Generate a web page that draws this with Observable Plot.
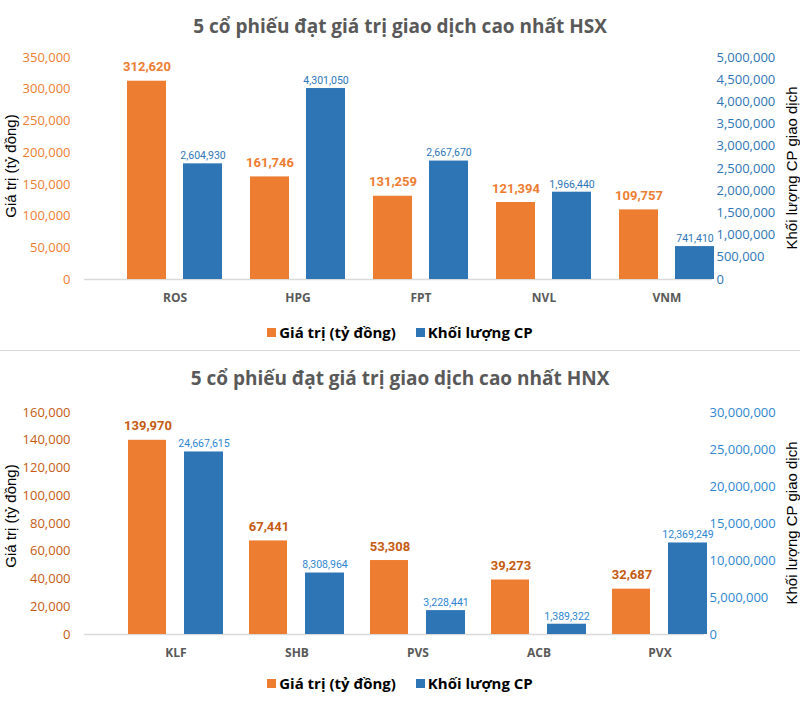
<!DOCTYPE html>
<html>
<head>
<meta charset="utf-8">
<script src="https://cdn.jsdelivr.net/npm/d3@7"></script>
<script src="https://cdn.jsdelivr.net/npm/@observablehq/plot@0.6"></script>
<style>
  html, body { margin: 0; padding: 0; background: #fff; }
  body { width: 800px; height: 724px; position: relative; overflow: hidden; font-family: "Open Sans", sans-serif; }
  .title { position: absolute; left: 0; width: 800px; text-align: center; font-size: 19px; font-weight: 700; color: #595959; height: 24px; line-height: 24px; }
  .chart { position: absolute; left: 0; }
  .ytitle { position: absolute; transform: translate(-50%, -50%) rotate(-90deg); white-space: nowrap; font-family: "Liberation Sans", Arial, sans-serif; font-size: 15px; color: #000; }
  .legend { position: absolute; left: 0; width: 800px; display: flex; justify-content: center; align-items: center; gap: 20px; font-size: 15px; font-weight: 700; color: #000; height: 22px; line-height: 22px; }
  .legend span.sw { display: inline-block; width: 9px; height: 9px; margin-right: 3px; vertical-align: middle; position: relative; top: -1px; }
  .sep { position: absolute; left: 0; width: 800px; height: 1px; background: #D9D9D9; }
</style>
</head>
<body>
<div class="title" style="top:14px">5 cổ phiếu đạt giá trị giao dịch cao nhất HSX</div>
<div id="c1" class="chart" style="top:40px"></div>
<div class="ytitle" style="left:10px; top:166px">Giá trị (tỷ đồng)</div>
<div class="ytitle" style="left:791px; top:168px">Khối lượng CP giao dịch</div>
<div class="legend" style="top:321px"><div><span class="sw" style="background:#ED7D31"></span>Giá trị (tỷ đồng)</div><div><span class="sw" style="background:#2E75B6"></span>Khối lượng CP</div></div>

<div class="sep" style="top:350px"></div>

<div class="title" style="top:366px">5 cổ phiếu đạt giá trị giao dịch cao nhất HNX</div>
<div id="c2" class="chart" style="top:395px"></div>
<div class="ytitle" style="left:10px; top:516px">Giá trị (tỷ đồng)</div>
<div class="ytitle" style="left:791px; top:523px">Khối lượng CP giao dịch</div>
<div class="legend" style="top:672px"><div><span class="sw" style="background:#ED7D31"></span>Giá trị (tỷ đồng)</div><div><span class="sw" style="background:#2E75B6"></span>Khối lượng CP</div></div>

<script>
// ---- Data ----
const hsxCategories = ["ROS", "HPG", "FPT", "NVL", "VNM"];
const hsxValue = [312620, 161746, 131259, 121394, 109757];
const hsxVolume = [2604930, 4301050, 2667670, 1966440, 741410];
const hsxValueTicks = [0, 50000, 100000, 150000, 200000, 250000, 300000, 350000];
const hsxVolumeTicks = [0, 500000, 1000000, 1500000, 2000000, 2500000, 3000000, 3500000, 4000000, 4500000, 5000000];

const hnxCategories = ["KLF", "SHB", "PVS", "ACB", "PVX"];
const hnxValue = [139970, 67441, 53308, 39273, 32687];
const hnxVolume = [24667615, 8308964, 3228441, 1389322, 12369249];
const hnxValueTicks = [0, 20000, 40000, 60000, 80000, 100000, 120000, 140000, 160000];
const hnxVolumeTicks = [0, 5000000, 10000000, 15000000, 20000000, 25000000, 30000000];

const fmt = d3.format(",");

function makeChart(o) {
  const vMax = o.valueTicks[o.valueTicks.length - 1];
  const volMax = o.volumeTicks[o.volumeTicks.length - 1];
  const k = vMax / volMax; // map volume onto the left (value) scale
  const rows = o.categories.map((c, i) => ({cat: c, value: o.value[i], volume: o.volume[i], volScaled: o.volume[i] * k}));
  return Plot.plot({
    width: 800,
    height: 280,
    marginLeft: 84,
    marginRight: o.marginRight,
    marginTop: 17,
    marginBottom: 41,
    style: {fontFamily: "'Open Sans', sans-serif", fontSize: "13px", background: "transparent"},
    x: {domain: o.categories, range: o.xRange, padding: 0, axis: null},
    y: {domain: [0, vMax], axis: null, label: null},
    marks: [
      Plot.ruleY([0], {stroke: "#D9D9D9", strokeWidth: 1.5}),
      Plot.barY(rows, {x: "cat", y: "value", fill: "#ED7D31", insetLeft: o.inA, insetRight: o.inB}),
      Plot.barY(rows, {x: "cat", y: "volScaled", fill: "#2E75B6", insetLeft: o.inC, insetRight: o.inD}),
      Plot.text(rows, {x: "cat", y: "value", text: d => fmt(d.value), dx: o.dxA, dy: -14,
        fill: o.valueLabelColor, fontWeight: "bold", fontSize: 13, fontFamily: "Roboto, sans-serif"}),
      Plot.text(rows, {x: "cat", y: "volScaled", text: d => fmt(d.volume), dx: o.dxB, dy: -8,
        fill: o.volumeLabelColor, fontSize: 10.5, fontFamily: "Roboto, sans-serif"}),
      Plot.axisX(o.categories, {anchor: "bottom", tickSize: 0, tickPadding: 14, fontWeight: "bold", fontSize: 12, fill: "#595959", label: null}),
      Plot.axisY(o.valueTicks, {anchor: "left", tickSize: 0, tickPadding: 14, tickFormat: fmt, fill: o.valueTickColor, fontSize: 13, label: null}),
      Plot.axisY(o.volumeTicks.map(v => v * k), {anchor: "right", tickSize: 0, tickPadding: o.rightPad,
        tickFormat: d => fmt(Math.round(d / k)), fill: o.volumeTickColor, fontSize: 13, label: null})
    ]
  });
}

document.getElementById("c1").appendChild(makeChart({
  categories: hsxCategories, value: hsxValue, volume: hsxVolume,
  valueTicks: hsxValueTicks, volumeTicks: hsxVolumeTicks,
  xRange: [113, 728], marginRight: 88, rightPad: 4,
  inA: 14, inB: 70, inC: 70, inD: 14, dxA: -28, dxB: 28,
  valueLabelColor: "#ED7D31", volumeLabelColor: "#2E75B6",
  valueTickColor: "#ED7D31", volumeTickColor: "#2E75B6"
}));

document.getElementById("c2").appendChild(makeChart({
  categories: hnxCategories, value: hnxValue, volume: hnxVolume,
  valueTicks: hnxValueTicks, volumeTicks: hnxVolumeTicks,
  xRange: [113, 721], marginRight: 96, rightPad: 5,
  inA: 13, inB: 70, inC: 69, inD: 13, dxA: -28, dxB: 28,
  valueLabelColor: "#C55A11", volumeLabelColor: "#2E86D1",
  valueTickColor: "#C55A11", volumeTickColor: "#2E86D1"
}));
</script>
</body>
</html>
